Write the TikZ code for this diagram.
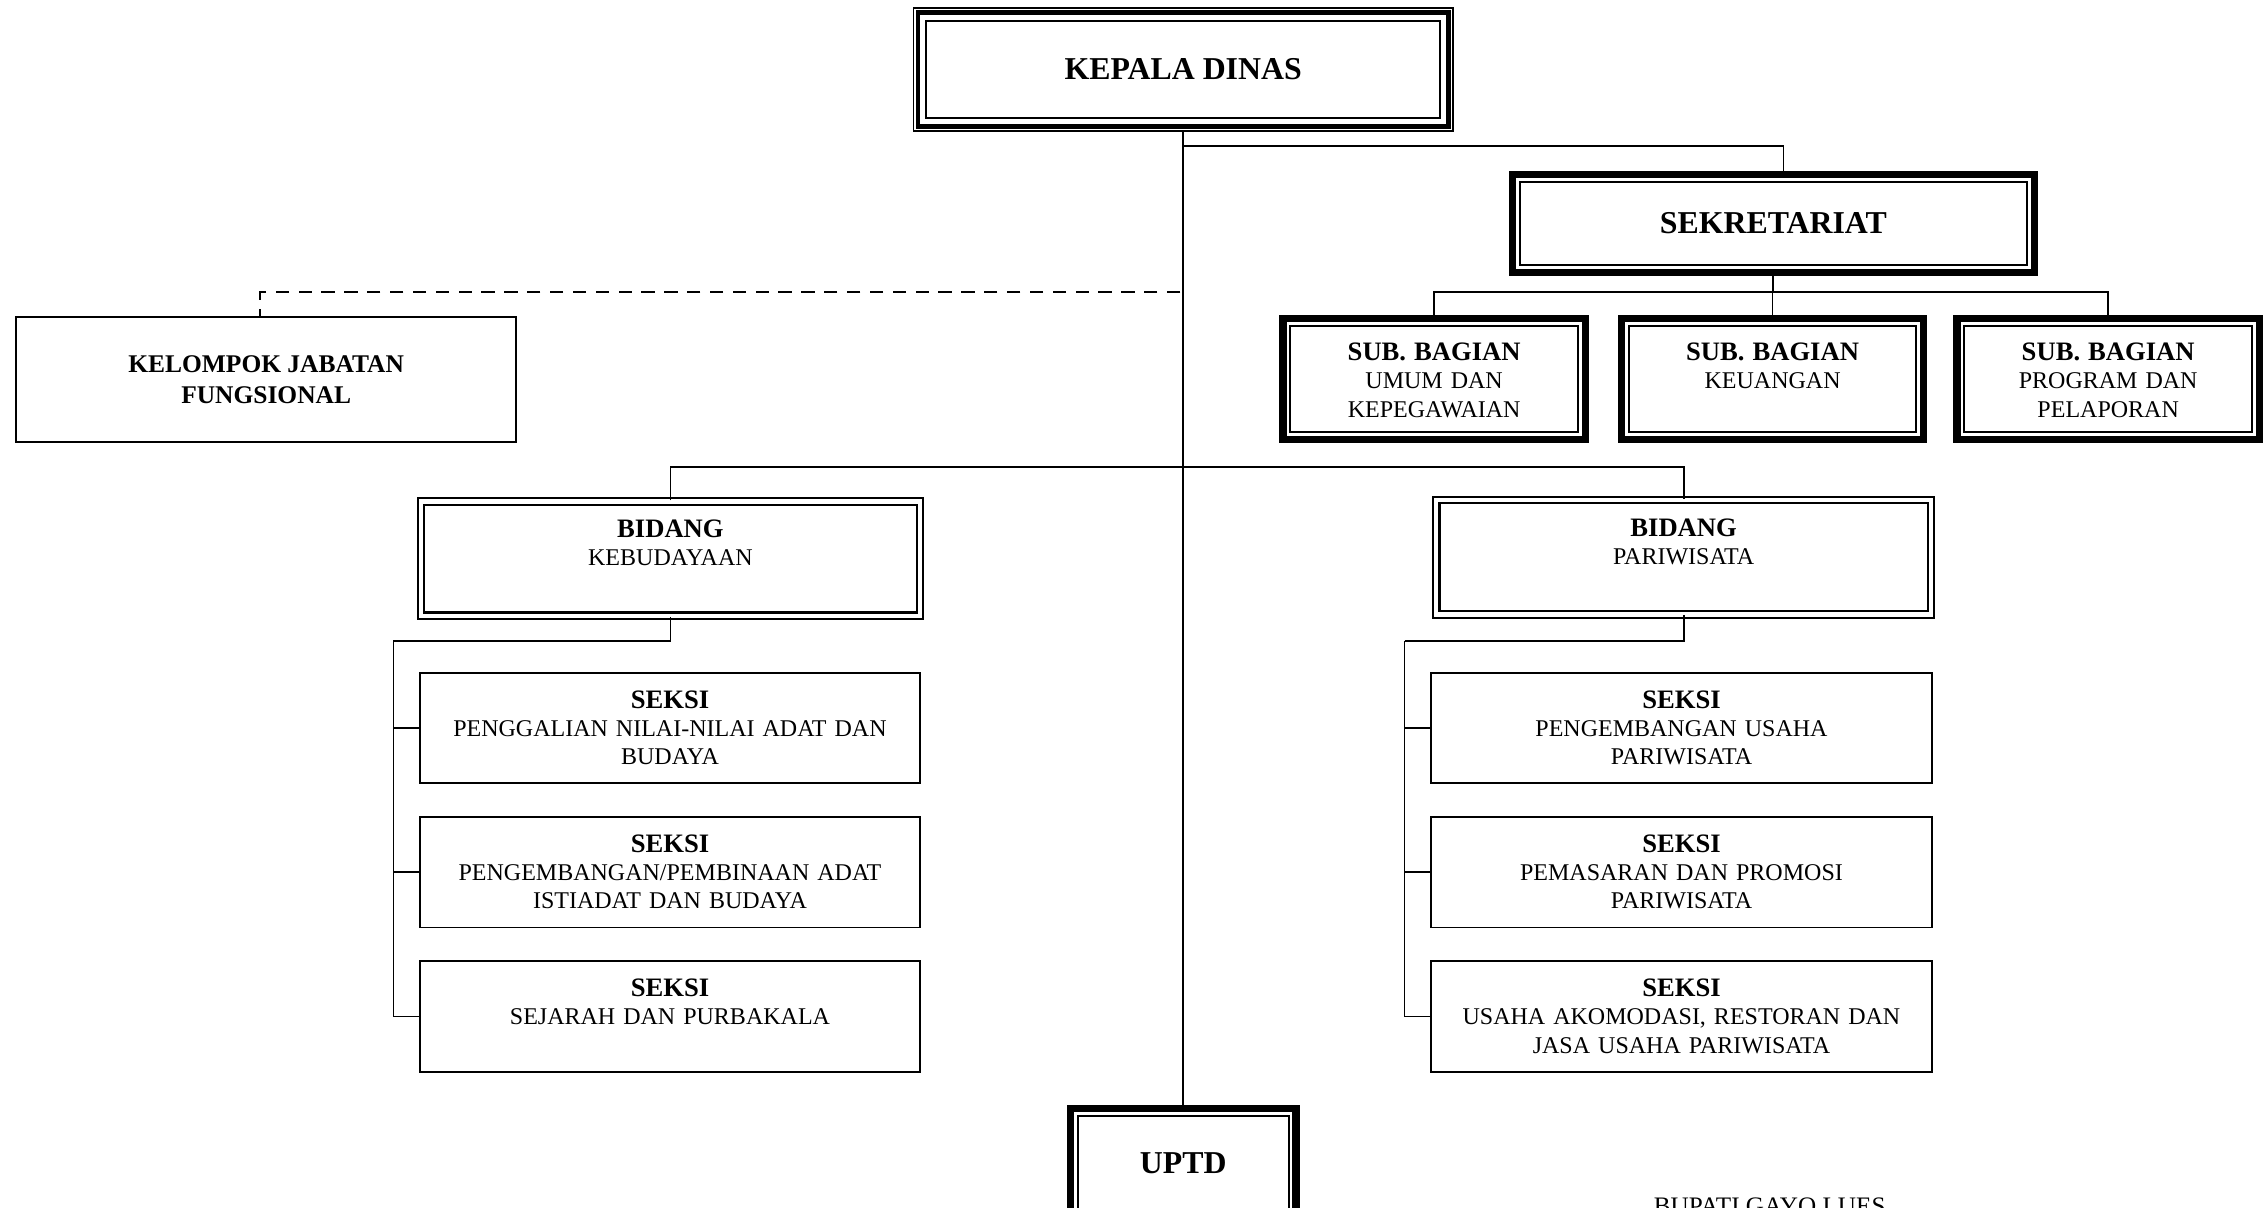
\documentclass[tikz,border=0pt]{standalone}
\usepackage{fontspec}
\setmainfont{Liberation Serif}
\newcommand{\unithead}{\fontsize{9.2}{9.7}\selectfont\bfseries}
\newcommand{\unitbody}{\fontsize{8.3}{9.7}\selectfont}
\newcommand{\toptitle}{\fontsize{11}{13}\selectfont\bfseries}
\begin{document}
\begin{tikzpicture}[x=0.5pt,y=-0.5pt,
    tribox/.style={draw,line width=0.5pt,inner sep=0pt,font=\toptitle,
      path picture={
        \draw[line width=1.6pt] ([shift={(1.6pt,1.6pt)}]path picture bounding box.south west) rectangle ([shift={(-1.6pt,-1.6pt)}]path picture bounding box.north east);
        \draw[line width=0.8pt] ([shift={(4.4pt,4.4pt)}]path picture bounding box.south west) rectangle ([shift={(-4.4pt,-4.4pt)}]path picture bounding box.north east);}},
    sekbox/.style={draw,line width=2.5pt,inner sep=0pt,
      path picture={
        \draw[line width=0.7pt] ([shift={(2.55pt,2.55pt)}]path picture bounding box.south west) rectangle ([shift={(-2.55pt,-2.55pt)}]path picture bounding box.north east);}},
    subbox/.style={sekbox,anchor=north,align=center,font=\unitbody,text width=104.5pt,text height=14.75pt,text depth=27.25pt},
    bidbox/.style={draw,double,line width=0.75pt,double distance=1.5pt,inner sep=0pt,anchor=north,align=center,font=\unitbody,text height=12.5pt,text depth=27pt},
    seksibox/.style={draw,line width=0.6pt,inner sep=0pt,anchor=north,align=center,font=\unitbody,text width=173pt,text height=12.3pt,text depth=25.9pt},
    fungbox/.style={draw,line width=0.6pt,inner sep=0pt,align=center,font=\fontsize{8.8}{10.5}\selectfont\bfseries},
    link/.style={line width=0.6pt}]
  \useasboundingbox (0,0) rectangle (1568,835);
  \clip (0,0) rectangle (1568,835);
  \node[tribox,minimum width=186.5pt,minimum height=42.5pt] (kepala) at (818,48) {KEPALA DINAS};
  \node[sekbox,font=\toptitle,minimum width=180.5pt,minimum height=34pt] (sekr) at (1226,154.5) {SEKRETARIAT};
  \node[subbox] (sub1) at (991.5,217.5) {{\unithead SUB. BAGIAN}\\UMUM DAN\\KEPEGAWAIAN};
  \node[subbox] (sub2) at (1225.5,217.5) {{\unithead SUB. BAGIAN}\\KEUANGAN};
  \node[subbox] (sub3) at (1457.5,217.5) {{\unithead SUB. BAGIAN}\\PROGRAM DAN\\PELAPORAN};
  \node[fungbox,minimum width=172.7pt,minimum height=43.2pt] (fung) at (184,262.5) {KELOMPOK JABATAN\\FUNGSIONAL};
  \node[bidbox,text width=172.5pt] (kebud) at (463.5,346) {{\unithead BIDANG}\\KEBUDAYAAN};
  \node[bidbox,text width=171pt] (pariw) at (1164,345) {{\unithead BIDANG}\\PARIWISATA};
  \node[seksibox] (kb1) at (463.2,464.5) {{\unithead SEKSI}\\PENGGALIAN NILAI-NILAI ADAT DAN\\BUDAYA};
  \node[seksibox] (kb2) at (463.2,564.3) {{\unithead SEKSI}\\PENGEMBANGAN/PEMBINAAN ADAT\\ISTIADAT DAN BUDAYA};
  \node[seksibox] (kb3) at (463.2,664) {{\unithead SEKSI}\\SEJARAH DAN PURBAKALA};
  \node[seksibox] (pw1) at (1162.5,464.5) {{\unithead SEKSI}\\PENGEMBANGAN USAHA\\PARIWISATA};
  \node[seksibox] (pw2) at (1162.5,564.3) {{\unithead SEKSI}\\PEMASARAN DAN PROMOSI\\PARIWISATA};
  \node[seksibox] (pw3) at (1162.5,664) {{\unithead SEKSI}\\USAHA AKOMODASI, RESTORAN DAN\\JASA USAHA PARIWISATA};
  \node[sekbox,font=\toptitle,minimum width=78pt,minimum height=37.5pt] (uptd) at (818,804) {UPTD};
  \node[anchor=base west,inner sep=0pt,font=\fontsize{8.7}{10}\selectfont] (bupati) at (1143,839.5) {BUPATI GAYO LUES};
  \coordinate (sekjoin) at (818,101);
  \coordinate (fungjoin) at (816,202);
  \coordinate (sekbus) at (1226,202);
  \coordinate (bidbus) at (818,323);
  \coordinate (kebbus) at (272,443);
  \coordinate (parbus) at (971,443);
  \begin{scope}[link]
    \draw (kepala.south) -- (uptd.north);
    \draw (sekjoin) -| ([xshift=3.5pt]sekr.north);
    \draw[dash pattern=on 4.6pt off 3.3pt] (fungjoin) -| ([xshift=-2pt]fung.north);
    \draw (sekr.south) -- (sekr.south |- sekbus);
    \draw (sub1.north) |- (sekbus) -| (sub3.north);
    \draw (sub2.north) -- (sub2.north |- sekbus);
    \draw (kebud.north) |- (bidbus) -| (pariw.north);
    \draw (kebud.south) |- (kebbus);
    \draw (pariw.south) |- (parbus);
    \foreach \s in {kb1,kb2,kb3}
      \draw (kebbus) |- (\s.west);
    \foreach \s in {pw1,pw2,pw3}
      \draw (parbus) |- (\s.west);
  \end{scope}
\end{tikzpicture}
\end{document}
